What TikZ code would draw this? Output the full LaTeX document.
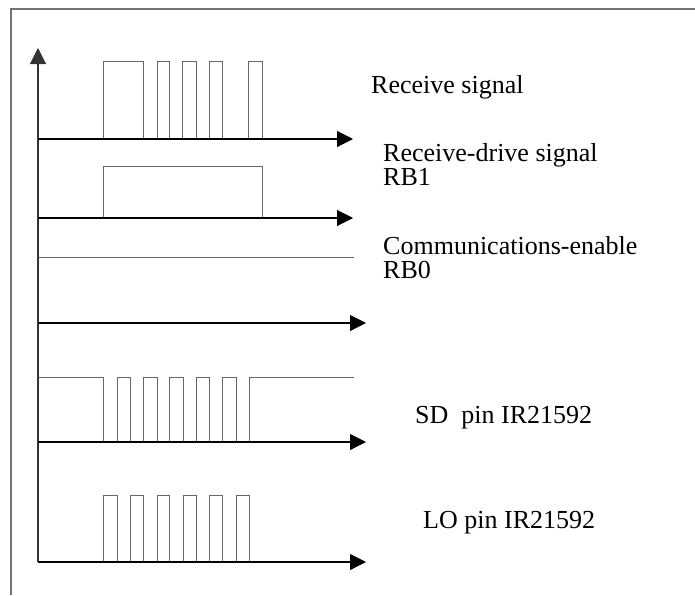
\documentclass[tikz,border=0pt]{standalone}
\usepackage{fontspec}
\setmainfont{Liberation Serif}
\usetikzlibrary{arrows.meta}

\tikzset{
  sig/.style={draw=black!60, line width=0.9pt},
  axis/.style={black, line width=1.1pt, -{Triangle[length=16pt,width=16pt]}},
  lbl/.style={anchor=base west, inner sep=0pt, align=left, font=\fontsize{26}{24}\selectfont},
}

\begin{document}
\begin{tikzpicture}[x=1pt, y=-1pt]
\useasboundingbox (0,0) rectangle (695,595);
% frame, cut on the right and at the bottom
\draw[black!55, line width=1.3pt] (11,595) -- (11,9) -- (695,9);

% waveforms
\draw[sig] (38,139) -| (103,61) -| (143,139) -| (157,61) -| (169,139) -| (182,61)
  -| (196,139) -| (209,61) -| (222,139) -| (248,61) -| (262,139);
\draw[sig] (38,218) -| (103,166) -| (262,218);
\draw[sig] (38,257) -- (354,257);
\draw[sig] (38,377) -| (103,442) -| (117,377) -| (130,442) -| (143,377) -| (157,442)
  -| (169,377) -| (183,442) -| (196,377) -| (209,442) -| (222,377) -| (236,442)
  -| (249,377) -- (354,377);
\draw[sig] (38,562) -| (103,495) -| (117,562) -| (130,495) -| (143,562) -| (157,495)
  -| (169,562) -| (183,495) -| (196,562) -| (209,495) -| (222,562) -| (236,495)
  -| (249,562);

% axes
\coordinate (o) at (38,562);
\coordinate (ytop) at (38,48);
\draw[axis, black!80] (o) -- (ytop);
\draw[axis] (38,139) -- (353,139);
\draw[axis] (38,218) -- (353,218);
\draw[axis] (38,323) -- (366,323);
\draw[axis] (38,442) -- (366,442);
\draw[axis] (o) -- (366,562);

% labels
\node[lbl] (rx) at (371,93) {Receive signal};
\node[lbl] (rb1) at (383,185) {Receive-drive signal\\RB1};
\node[lbl] (rb0) at (383,278) {Communications-enable\\RB0};
\node[lbl] (sd) at (415,423) {SD\ \ pin IR21592};
\node[lbl] (lo) at (423,528) {LO pin IR21592};
\end{tikzpicture}
\end{document}
